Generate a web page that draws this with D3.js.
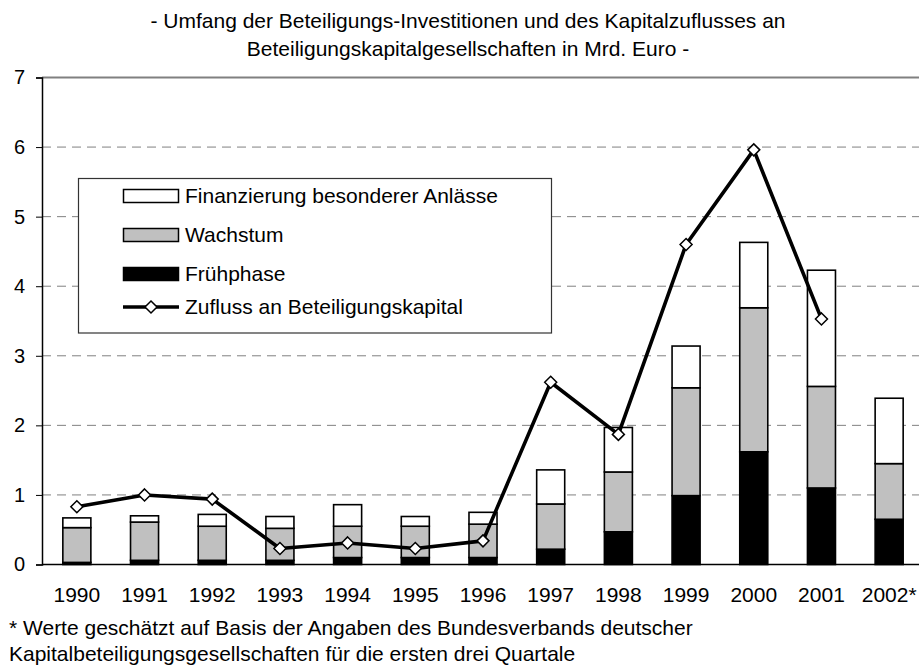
<!DOCTYPE html>
<html><head><meta charset="utf-8">
<script src="https://cdn.jsdelivr.net/npm/d3@7"></script>
<style>
html,body{margin:0;padding:0;background:#fff;}
svg text{font-family:"Liberation Sans",Arial,sans-serif;fill:#000;}
</style></head>
<body>
<svg id="chart" width="919" height="668"></svg>
<script>
const categories = ["1990","1991","1992","1993","1994","1995","1996","1997","1998","1999","2000","2001","2002*"];
const fruehphase = [0.03,0.06,0.06,0.06,0.10,0.10,0.10,0.22,0.47,0.99,1.62,1.10,0.65];
const wachstum = [0.50,0.55,0.49,0.46,0.45,0.45,0.48,0.65,0.86,1.55,2.07,1.46,0.80];
const finanzierung = [0.14,0.09,0.17,0.17,0.31,0.14,0.17,0.49,0.64,0.60,0.94,1.67,0.94];
const zufluss = [0.83,1.00,0.94,0.23,0.31,0.23,0.34,2.62,1.87,4.60,5.96,3.53,null];
const yTicks = [0,1,2,3,4,5,6,7];
const titleLines = ["- Umfang der Beteiligungs-Investitionen und des Kapitalzuflusses an","Beteiligungskapitalgesellschaften in Mrd. Euro -"];
const footnoteLines = ["* Werte geschätzt auf Basis der Angaben des Bundesverbands deutscher","Kapitalbeteiligungsgesellschaften für die ersten drei Quartale"];
const seriesNames = ["Finanzierung besonderer Anlässe","Wachstum","Frühphase","Zufluss an Beteiligungskapital"];

const svg = d3.select("#chart");
const pLeft = 42, pRight = 922, pTop = 77.5, pBottom = 564.5;
const x = d3.scaleBand().domain(categories).range([pLeft+1, pRight+1]).paddingInner(0.586).paddingOuter(0.293);
const y = d3.scaleLinear().domain([0,7]).range([pBottom, pTop]);
const fs = 21;

// title
svg.append("g").selectAll("text").data(titleLines).join("text")
  .attr("x", 468).attr("y", (d,i)=>27.5 + i*28.5)
  .attr("text-anchor","middle").style("font-size", fs+"px").text(d=>d);

// gridlines
svg.append("g").selectAll("line").data(yTicks.filter(t=>t>0 && t<7)).join("line")
  .attr("x1", pLeft).attr("x2", 919).attr("y1", d=>y(d)).attr("y2", d=>y(d))
  .attr("stroke","#808080").attr("stroke-width",1).attr("stroke-dasharray","9,6");
// top line
svg.append("line").attr("x1",pLeft).attr("x2",919).attr("y1",y(7)).attr("y2",y(7))
  .attr("stroke","#808080").attr("stroke-width",2);

// y axis
const yAxis = d3.axisLeft(y).tickValues(yTicks).tickSize(6).tickPadding(11).tickFormat(d3.format("d"));
const ya = svg.append("g").attr("transform",`translate(${pLeft},0)`).call(yAxis);
ya.select(".domain").attr("stroke","#000").attr("stroke-width",1.5);
ya.selectAll(".tick line").attr("stroke","#000");
ya.selectAll(".tick text").style("font-size","20px").style("font-family","'Liberation Sans',Arial,sans-serif").attr("fill","#000");

// stacked bars
const stackData = categories.map((c,i)=>({cat:c, f:fruehphase[i], w:wachstum[i], a:finanzierung[i]}));
const stacked = d3.stack().keys(["f","w","a"])(stackData);
const fills = {f:"#000000", w:"#c0c0c0", a:"#ffffff"};
svg.append("g").selectAll("g").data(stacked).join("g")
  .attr("fill", d=>fills[d.key])
  .selectAll("rect").data(d=>d).join("rect")
  .attr("x", d=>x(d.data.cat)).attr("width", x.bandwidth())
  .attr("y", d=>y(d[1])).attr("height", d=>y(d[0])-y(d[1]))
  .attr("stroke","#000").attr("stroke-width",1.6);

// x axis (zero line)
svg.append("line").attr("x1",pLeft).attr("x2",919).attr("y1",y(0)).attr("y2",y(0))
  .attr("stroke","#000").attr("stroke-width",1.5);
svg.append("g").selectAll("text").data(categories).join("text")
  .attr("x", d=>x(d)+x.bandwidth()/2).attr("y", 602)
  .attr("text-anchor","middle").style("font-size", fs+"px").text(d=>d);

// line
const lineData = categories.map((c,i)=>({cat:c, v:zufluss[i]})).filter(d=>d.v!==null);
const line = d3.line().x(d=>x(d.cat)+x.bandwidth()/2).y(d=>y(d.v));
svg.append("path").datum(lineData).attr("d", line)
  .attr("fill","none").attr("stroke","#000").attr("stroke-width",3.6).attr("stroke-linejoin","round");
svg.append("g").selectAll("path").data(lineData).join("path")
  .attr("transform", d=>`translate(${x(d.cat)+x.bandwidth()/2},${y(d.v)})`)
  .attr("d", "M0,-6L6,0L0,6L-6,0Z")
  .attr("fill","#fff").attr("stroke","#000").attr("stroke-width",1.5);

// legend
const lg = svg.append("g");
lg.append("rect").attr("x",78.5).attr("y",178.5).attr("width",473).attr("height",154.5)
  .attr("fill","#fff").attr("stroke","#333").attr("stroke-width",1.2);
const rowY = [196, 235, 274, 307];
const legFill = ["#ffffff","#c0c0c0","#000000"];
seriesNames.forEach((name,i)=>{
  if(i<3){
    lg.append("rect").attr("x",123.5).attr("y",rowY[i]-6.5).attr("width",55).attr("height",13)
      .attr("fill",legFill[i]).attr("stroke","#000").attr("stroke-width",1.5);
  } else {
    lg.append("line").attr("x1",123).attr("x2",179).attr("y1",rowY[i]).attr("y2",rowY[i])
      .attr("stroke","#000").attr("stroke-width",3.6);
    lg.append("path").attr("transform",`translate(151,${rowY[i]})`).attr("d","M0,-6L6,0L0,6L-6,0Z")
      .attr("fill","#fff").attr("stroke","#000").attr("stroke-width",1.5);
  }
  lg.append("text").attr("x",185).attr("y",rowY[i]+7).style("font-size",fs+"px").text(name);
});

// footnote
svg.append("g").selectAll("text").data(footnoteLines).join("text")
  .attr("x",9).attr("y",(d,i)=>635+i*25.5).style("font-size",fs+"px").text(d=>d);
</script>
</body></html>
